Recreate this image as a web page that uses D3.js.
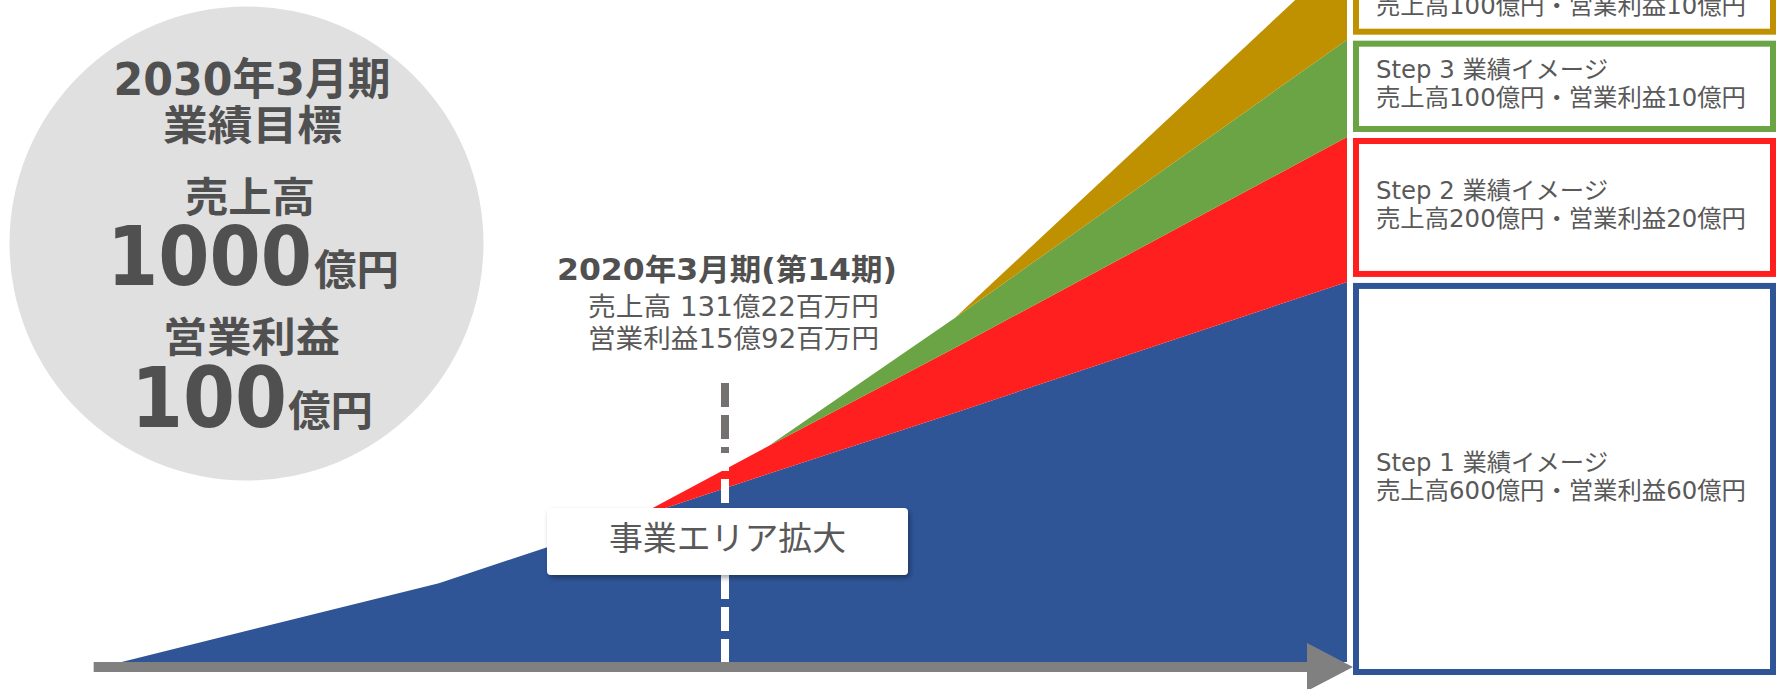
<!DOCTYPE html>
<html>
<head>
<meta charset="utf-8">
<script src="https://cdn.jsdelivr.net/npm/d3@7"></script>
<style>
  html, body { margin: 0; padding: 0; background: #fff; overflow: hidden; }
  svg { display: block; }
</style>
</head>
<body>
<svg id="chart" width="1779" height="689"></svg>
<script>
// ---- data -------------------------------------------------------------
// fiscal year (March year-end) along the time axis
const years = [2010.3, 2015.4, 2018.5, 2020.7, 2023.7, 2030];
// layer thickness per step, in 億円 (stacked, total 1000 at 2030)
const step1 = [0, 111, 201, 265, 351, 535];
const step2 = [0, 0, 0, 39, 91.5, 204];
const step3 = [0, 0, 0, 0, 42, 137];
const step4 = [0, 0, 0, 0, 0, 124];

const stepKeys   = ["step1", "step2", "step3", "step4"];
const stepColors = ["#2F5597", "#FF1F1F", "#6AA444", "#BF9000"];
const stepTitles = ["Step 1 業績イメージ", "Step 2 業績イメージ", "Step 3 業績イメージ", "Step 4 業績イメージ"];
const stepSales  = [600, 200, 100, 100];
const stepProfit = [60, 20, 10, 10];

const markerYear  = 2020;
const markerTitle = "2020年3月期(第14期)";
const markerLines = ["売上高 131億22百万円", "営業利益15億92百万円"];
const calloutText = "事業エリア拡大";

const goalTitle  = ["2030年3月期", "業績目標"];
const goalSales  = { label: "売上高", value: "1000", unit: "億円" };
const goalProfit = { label: "営業利益", value: "100", unit: "億円" };

// ---- setup ------------------------------------------------------------
const svg = d3.select("#chart");

const FONT = '"DejaVu Sans", "Noto Sans CJK JP", sans-serif';
const FONT_NUM = '"DejaVu Sans Condensed", "DejaVu Sans", "Noto Sans CJK JP", sans-serif';
const TEXT_DARK = "#505050";
const TEXT_MID = "#595959";

const x = d3.scaleLinear().domain([2020, 2030]).range([725, 1347]);
const y = d3.scaleLinear().domain([0, 1000]).range([662, -48.4]);

const defs = svg.append("defs");
const shadow = defs.append("filter").attr("id", "shadow")
  .attr("x", "-10%").attr("y", "-30%").attr("width", "125%").attr("height", "170%");
shadow.append("feDropShadow")
  .attr("dx", 2).attr("dy", 3).attr("stdDeviation", 2.5)
  .attr("flood-color", "#000").attr("flood-opacity", 0.35);

// ---- stacked areas ----------------------------------------------------
const layers = { step1, step2, step3, step4 };
const rows = years.map((yr, i) => {
  const r = { year: yr };
  stepKeys.forEach(k => r[k] = layers[k][i]);
  return r;
});
const series = d3.stack().keys(stepKeys)(rows);

const areaG = svg.append("g");
series.forEach((s, si) => {
  const vals = layers[s.key];
  const first = vals.findIndex(v => v > 0);
  const area = d3.area()
    .defined((d, i) => i >= first - 1)
    .x(d => x(d.data.year))
    .y0(d => y(d[0]))
    .y1(d => y(d[1]));
  areaG.append("path")
    .datum(s)
    .attr("d", area)
    .attr("fill", stepColors[si]);
});

// ---- time axis arrow --------------------------------------------------
const axisY = y(0) + 5;
const axisStart = x(2009.85);
const arrowTip = x(2030) + 6;
const arrowBack = arrowTip - 46;
svg.append("line")
  .attr("x1", axisStart).attr("x2", arrowBack + 4)
  .attr("y1", axisY).attr("y2", axisY)
  .attr("stroke", "#808080").attr("stroke-width", 10);
svg.append("path")
  .attr("d", `M${arrowBack},${axisY - 24}L${arrowTip},${axisY}L${arrowBack},${axisY + 24}Z`)
  .attr("fill", "#808080");

// ---- marker for the current period ------------------------------------
const mx = x(markerYear);
const dashTop = 383, dashSplit = 453;
svg.append("line")
  .attr("x1", mx).attr("x2", mx).attr("y1", dashTop).attr("y2", dashSplit)
  .attr("stroke", "#767171").attr("stroke-width", 8)
  .attr("stroke-dasharray", "24 8");
svg.append("line")
  .attr("x1", mx).attr("x2", mx).attr("y1", dashSplit).attr("y2", y(0))
  .attr("stroke", "#ffffff").attr("stroke-width", 8)
  .attr("stroke-dasharray", "24 8")
  .attr("stroke-dashoffset", (dashSplit - dashTop) % 32);

svg.append("text")
  .attr("x", mx + 2).attr("y", 280)
  .attr("text-anchor", "middle")
  .attr("textLength", 340).attr("lengthAdjust", "spacingAndGlyphs")
  .style("font-family", FONT).style("font-weight", 700).style("font-size", "30px")
  .attr("fill", TEXT_DARK)
  .text(markerTitle);
markerLines.forEach((t, i) => {
  svg.append("text")
    .attr("x", 588).attr("y", 316 + i * 32)
    .attr("textLength", 291).attr("lengthAdjust", "spacingAndGlyphs")
    .style("font-family", FONT).style("font-size", "26px")
    .attr("fill", TEXT_MID)
    .text(t);
});

// callout box
const cb = { x: 547, y: 508, w: 361, h: 67 };
svg.append("rect")
  .attr("x", cb.x).attr("y", cb.y).attr("width", cb.w).attr("height", cb.h)
  .attr("rx", 4).attr("fill", "#ffffff")
  .attr("filter", "url(#shadow)");
svg.append("text")
  .attr("x", cb.x + cb.w / 2).attr("y", 550)
  .attr("text-anchor", "middle")
  .attr("textLength", 237).attr("lengthAdjust", "spacingAndGlyphs")
  .style("font-family", FONT).style("font-size", "33px")
  .attr("fill", TEXT_MID)
  .text(calloutText);

// ---- step boxes on the right -----------------------------------------
const endRow = series.map(s => s[s.length - 1]);
const boxX = 1353, boxW = 423, sw = 6;
const boxG = svg.append("g");
endRow.forEach((d, i) => {
  const top = y(d[1]) + 1;
  const bottom = i === 0 ? y(0) + 13 : y(d[0]) - 5;
  const cy = (top + bottom) / 2;
  boxG.append("rect")
    .attr("x", boxX + sw / 2).attr("y", top + sw / 2)
    .attr("width", boxW - sw).attr("height", bottom - top - sw)
    .attr("fill", "#ffffff")
    .attr("stroke", stepColors[i]).attr("stroke-width", sw);
  boxG.append("text")
    .attr("x", 1376).attr("y", cy - 8)
    .attr("textLength", 232).attr("lengthAdjust", "spacingAndGlyphs")
    .style("font-family", FONT).style("font-size", "24px")
    .attr("fill", TEXT_MID)
    .text(stepTitles[i]);
  boxG.append("text")
    .attr("x", 1376).attr("y", cy + 20)
    .attr("textLength", 370).attr("lengthAdjust", "spacingAndGlyphs")
    .style("font-family", FONT).style("font-size", "24px")
    .attr("fill", TEXT_MID)
    .text(`売上高${stepSales[i]}億円・営業利益${stepProfit[i]}億円`);
});

// ---- target circle ----------------------------------------------------
const goal = svg.append("g");
goal.append("circle")
  .attr("cx", 246.5).attr("cy", 243.5).attr("r", 237)
  .attr("fill", "#e0e0e0");

function label(str, opts) {
  const t = goal.append("text")
    .attr("x", opts.x).attr("y", opts.y)
    .attr("text-anchor", opts.anchor || "middle")
    .style("font-family", opts.family || FONT)
    .style("font-weight", 700)
    .style("font-size", opts.size + "px")
    .attr("fill", TEXT_DARK)
    .text(str);
  if (opts.len) t.attr("textLength", opts.len).attr("lengthAdjust", "spacingAndGlyphs");
  if (opts.stretch) t.style("font-stretch", opts.stretch);
  return t;
}

label(goalTitle[0], { x: 252, y: 95, size: 44, len: 277 });
label(goalTitle[1], { x: 252.5, y: 140, size: 41, len: 179 });
label(goalSales.label, { x: 250, y: 212, size: 41, len: 130 });
label(goalSales.value, { x: 107, y: 285, size: 82, len: 205, anchor: "start", family: FONT_NUM, stretch: "condensed" });
label(goalSales.unit, { x: 314, y: 285, size: 42, len: 85, anchor: "start" });
label(goalProfit.label, { x: 251.5, y: 352, size: 41, len: 177 });
label(goalProfit.value, { x: 131, y: 427, size: 84, len: 156, anchor: "start", family: FONT_NUM, stretch: "condensed" });
label(goalProfit.unit, { x: 288, y: 426, size: 42, len: 85, anchor: "start" });
</script>
</body>
</html>
